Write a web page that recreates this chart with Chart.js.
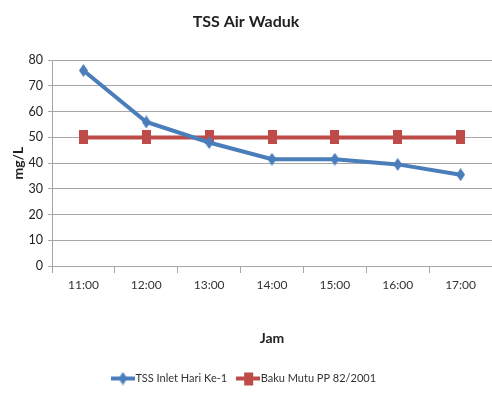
<!DOCTYPE html>
<html>
<head>
<meta charset="utf-8">
<script src="https://cdn.jsdelivr.net/npm/chart.js@4/dist/chart.umd.min.js"></script>
<style>
  html, body { margin: 0; padding: 0; background: #fff; overflow: hidden; }
  #wrap { width: 492px; height: 402px; }
  canvas { display: block; }
</style>
</head>
<body>
<div id="wrap"><canvas id="c" width="492" height="402"></canvas></div>
<script>
// Sampling times and measured TSS values
const jam = ['11:00', '12:00', '13:00', '14:00', '15:00', '16:00', '17:00'];
const tssInlet = [76, 56, 48, 41.5, 41.5, 39.5, 35.5];
const bakuMutu = [50, 50, 50, 50, 50, 50, 50];
const yTicks = [0, 10, 20, 30, 40, 50, 60, 70, 80];

const FONT = "Lato, 'Liberation Sans', sans-serif";
const BLUE = '#4A7EBB';
const RED = '#BE4B48';

// Tall diamond marker
function diamond(w, h, color) {
  const c = document.createElement('canvas');
  c.width = w; c.height = h;
  const g = c.getContext('2d');
  g.fillStyle = color;
  g.beginPath();
  g.moveTo(w / 2, 0); g.lineTo(w, h / 2); g.lineTo(w / 2, h); g.lineTo(0, h / 2);
  g.closePath(); g.fill();
  return c;
}
// Tall square marker
function block(w, h, color) {
  const c = document.createElement('canvas');
  c.width = w; c.height = h;
  const g = c.getContext('2d');
  g.fillStyle = color;
  g.fillRect(0, 0, w, h);
  return c;
}
// Legend swatch: short line with the marker in the middle
function swatch(marker, color) {
  const w = 24, h = 16;
  const c = document.createElement('canvas');
  c.width = w; c.height = h;
  const g = c.getContext('2d');
  g.fillStyle = color;
  g.fillRect(0, h / 2 - 2, w, 4);
  g.drawImage(marker, (w - marker.width) / 2, (h - marker.height) / 2);
  return c;
}

const blueMark = diamond(9, 13, BLUE);
const redMark = block(9, 14, RED);
const blueKey = swatch(diamond(9, 13, BLUE), BLUE);
const redKey = swatch(block(9, 13, RED), RED);

new Chart(document.getElementById('c'), {
  type: 'line',
  data: {
    labels: jam,
    datasets: [
      {
        label: 'TSS Inlet Hari Ke-1',
        data: tssInlet,
        borderColor: BLUE,
        backgroundColor: BLUE,
        borderWidth: 4,
        pointStyle: blueMark,
        tension: 0,
        keyStyle: blueKey
      },
      {
        label: 'Baku Mutu PP 82/2001',
        data: bakuMutu,
        borderColor: RED,
        backgroundColor: RED,
        borderWidth: 4,
        pointStyle: redMark,
        tension: 0,
        keyStyle: redKey
      }
    ]
  },
  options: {
    responsive: false,
    animation: false,
    devicePixelRatio: 1,
    layout: { autoPadding: false, padding: { top: 0, right: 0, bottom: 8, left: 0 } },
    plugins: {
      tooltip: { enabled: false },
      title: {
        display: true,
        text: 'TSS Air Waduk',
        color: '#222',
        font: { family: FONT, size: 16, weight: 'bold' },
        padding: { top: 12, bottom: 29 }
      },
      legend: {
        position: 'bottom',
        labels: {
          usePointStyle: true,
          pointStyleWidth: 14,
          boxHeight: 11,
          padding: 14,
          color: '#333',
          font: { family: FONT, size: 11 },
          generateLabels(chart) {
            return chart.data.datasets.map((ds, i) => ({
              text: ds.label,
              pointStyle: ds.keyStyle,
              fillStyle: ds.borderColor,
              strokeStyle: ds.borderColor,
              lineWidth: 0,
              hidden: false,
              datasetIndex: i,
              fontColor: '#333'
            }));
          }
        }
      }
    },
    scales: {
      x: {
        offset: true,
        afterFit(scale) {
          scale.height = 93;
          scale.paddingLeft = 0;
          scale.paddingRight = 0;
        },
        grid: {
          offset: true,
          drawOnChartArea: false,
          drawTicks: true,
          tickLength: 7,
          color: '#A6A6A6'
        },
        border: { display: true, color: '#A6A6A6', width: 1 },
        ticks: {
          color: '#333',
          padding: 5,
          maxRotation: 0,
          font: { family: FONT, size: 12 }
        },
        title: {
          display: true,
          text: 'Jam',
          color: '#222',
          font: { family: FONT, size: 14, weight: 'bold' },
          padding: { top: 0, bottom: 12 }
        }
      },
      y: {
        min: 0,
        max: 80,
        afterFit(scale) {
          scale.width = 52;
          scale.paddingTop = 0;
          scale.paddingBottom = 0;
        },
        afterBuildTicks(scale) { scale.ticks = yTicks.map(v => ({ value: v })); },
        grid: {
          color: '#A6A6A6',
          lineWidth: 1,
          tickLength: 4
        },
        border: { display: true, color: '#A6A6A6', width: 1 },
        ticks: {
          color: '#222',
          padding: 5,
          font: { family: FONT, size: 12.5 }
        },
        title: {
          display: true,
          text: 'mg/L',
          color: '#222',
          font: { family: FONT, size: 14, weight: 'bold' },
          padding: { top: 10, bottom: 0 }
        }
      }
    }
  }
});
</script>
</body>
</html>
